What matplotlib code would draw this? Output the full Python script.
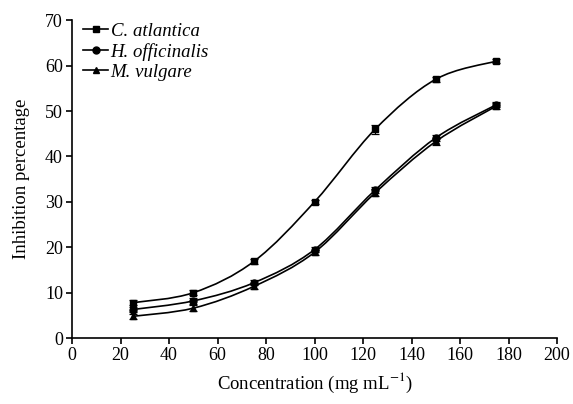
import matplotlib
matplotlib.use("Agg")
import matplotlib.pyplot as plt
import numpy as np
from matplotlib.path import Path
from matplotlib.patches import PathPatch

plt.rcParams["font.family"] = ["Liberation Serif", "DejaVu Serif"]
plt.rcParams["mathtext.fontset"] = "stix"

concentration = [25, 50, 75, 100, 125, 150, 175]
c_atlantica = [7.8, 10.0, 16.9, 30.0, 46.0, 57.0, 61.0]
h_officinalis = [6.3, 8.2, 12.2, 19.5, 32.6, 44.1, 51.4]
m_vulgare = [4.8, 6.6, 11.4, 18.9, 32.0, 43.3, 51.1]
c_err = [0.6, 0.6, 0.5, 0.5, 1.0, 0.5, 0.5]
h_err = [0.6, 0.6, 0.5, 0.6, 0.6, 0.6, 0.6]
m_err = [0.6, 0.6, 0.6, 0.6, 0.8, 0.8, 0.6]
labels = ["C. atlantica", "H. officinalis", "M. vulgare"]
markers = ["s", "o", "^"]


def smooth_path(x, y):
    # Catmull-Rom through the points, as cubic Bezier segments
    pts = np.column_stack([np.asarray(x, float), np.asarray(y, float)])
    verts = [pts[0]]
    codes = [Path.MOVETO]
    n = len(pts)
    for i in range(n - 1):
        p0 = pts[i - 1] if i > 0 else pts[i]
        p1 = pts[i]
        p2 = pts[i + 1]
        p3 = pts[i + 2] if i + 2 < n else pts[i + 1]
        verts += [p1 + (p2 - p0) / 6.0, p2 - (p3 - p1) / 6.0, p2]
        codes += [Path.CURVE4] * 3
    return Path(verts, codes)


fig = plt.figure(figsize=(5.73, 4.04), dpi=100)
ax = fig.add_axes([0.1257, 0.163, 0.8464, 0.787])

series = [(c_atlantica, c_err), (h_officinalis, h_err), (m_vulgare, m_err)]
for (vals, err), lab, mk in zip(series, labels, markers):
    ax.add_patch(PathPatch(smooth_path(concentration, vals), fill=False,
                           edgecolor="black", lw=1.2))
    ax.errorbar(concentration, vals, yerr=err, fmt=mk, color="black",
                markersize=5, capsize=2.8, elinewidth=0.9, capthick=0.9)
    ax.plot([], [], marker=mk, color="black", lw=1.2, markersize=5, label=lab)

ax.set_xlim(0, 200)
ax.set_ylim(0, 70)
ax.set_xticks(np.arange(0, 201, 20))
ax.set_yticks(np.arange(0, 71, 10))
ax.spines["top"].set_visible(False)
ax.spines["right"].set_visible(False)
for s in ["left", "bottom"]:
    ax.spines[s].set_linewidth(1.2)
ax.tick_params(direction="out", length=4.5, width=1.2, labelsize=13, pad=2)
ax.set_xlabel("Concentration (mg mL$^{-1}$)", fontsize=13.5, labelpad=5)
ax.set_ylabel("Inhibition percentage", fontsize=13.5, labelpad=11)

leg = ax.legend(loc="upper left", frameon=False, fontsize=13.5,
                handlelength=1.3, handletextpad=0.15, labelspacing=0.15,
                borderaxespad=0.0, bbox_to_anchor=(0.008, 1.015))
for t in leg.get_texts():
    t.set_fontstyle("italic")

fig.savefig("out.png", dpi=100)
